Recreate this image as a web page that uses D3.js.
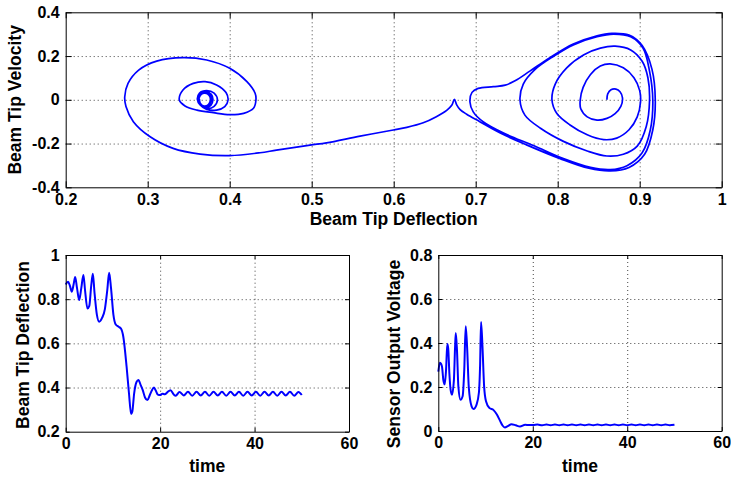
<!DOCTYPE html>
<meta charset="utf-8">
<head>
    <title>Beam tip response</title>
</head>
<style>
    body { margin: 0; background: #fff; }
    svg { font-family: "Liberation Sans", Arial, sans-serif; font-weight: bold; }
    .grid line { stroke: #444; stroke-dasharray: 1,3; }
    .grid path { display: none; }
    .axis path, .axis line { stroke: #000; }
</style>
<div id="fig"></div>
<script src="https://d3js.org/d3.v7.min.js"></script>
<script>
// phase portrait: [deflection, velocity]
// starts in the right well, spirals out, passes the cusp, settles in the left well
var phaseRightWell = [
    [0.860,0.000],[0.861,0.027],[0.865,0.046],[0.871,0.049],[0.876,0.037],[0.879,0.009],
    [0.877,-0.030],[0.870,-0.063],[0.860,-0.085],[0.848,-0.093],[0.836,-0.078],[0.828,-0.040],
    [0.8275,0.000],[0.831,0.057],[0.840,0.116],[0.852,0.154],[0.864,0.164],[0.880,0.146],
    [0.893,0.101],[0.900,0.042],[0.901,-0.010],[0.897,-0.078],[0.887,-0.137],[0.872,-0.175],
    [0.856,-0.182],[0.836,-0.160],[0.815,-0.115],[0.799,-0.063],[0.793,0.000],[0.797,0.072],
    [0.811,0.146],[0.832,0.206],[0.852,0.236],[0.870,0.245],[0.889,0.228],[0.903,0.176],
    [0.910,0.101],[0.912,-0.003],[0.908,-0.122],[0.897,-0.212],[0.880,-0.249],[0.860,-0.257],
    [0.836,-0.234],[0.807,-0.190],[0.779,-0.130],[0.760,-0.070],[0.754,0.000],[0.758,0.072],
    [0.7725,0.139],[0.795,0.199],[0.819,0.251],[0.848,0.288],[0.868,0.300],[0.889,0.288],
    [0.904,0.236],[0.912,0.131],[0.916,-0.003],[0.913,-0.137],[0.903,-0.242],[0.8845,-0.301],
    [0.864,-0.319],[0.840,-0.309],[0.807,-0.269],[0.7705,-0.209],[0.734,-0.152],[0.709,-0.100],
    [0.697,-0.055],[0.693,-0.010],[0.6955,0.034],[0.703,0.052],[0.7216,0.060],[0.736,0.067],
    [0.748,0.087],[0.766,0.131],[0.791,0.194],[0.819,0.255],[0.848,0.293],[0.866,0.304],
    [0.887,0.296],[0.903,0.248],[0.915,0.139],[0.919,-0.003],[0.916,-0.137],[0.906,-0.249],
    [0.887,-0.309],[0.864,-0.325],[0.838,-0.313],[0.803,-0.269],[0.762,-0.206],[0.730,-0.152],
    [0.705,-0.100],[0.689,-0.066],[0.681,-0.045],[0.677,-0.024]
];
var phaseCrossing = [
    [0.674,0.002],[0.671,-0.024],[0.665,-0.047],[0.652,-0.077],[0.636,-0.105],[0.616,-0.126],
    [0.5995,-0.138],[0.559,-0.166],[0.518,-0.197],[0.498,-0.207],[0.457,-0.230],[0.437,-0.242]
];
var phaseLeftWell = [
    [0.400,-0.255],[0.364,-0.248],[0.331,-0.222],[0.303,-0.169],[0.2825,-0.100],[0.2735,-0.031],
    [0.272,0.014],[0.276,0.075],[0.289,0.136],[0.311,0.177],[0.343,0.193],[0.372,0.182],
    [0.400,0.144],[0.421,0.083],[0.431,0.030],[0.432,-0.001],[0.429,-0.039],[0.417,-0.062],
    [0.400,-0.068],[0.380,-0.059],[0.360,-0.047],[0.3455,-0.028],[0.3386,-0.001],[0.343,0.045],
    [0.3556,0.075],[0.370,0.083],[0.384,0.068],[0.3955,0.033],[0.398,-0.001],[0.394,-0.031],
    [0.384,-0.047],[0.372,-0.044],[0.364,-0.024],[0.3606,0.002],[0.363,0.030],[0.372,0.042],
    [0.381,0.030],[0.385,0.000],[0.381,-0.030],[0.373,-0.040],[0.365,-0.025],[0.3615,0.002],
    [0.364,0.028],[0.371,0.036],[0.3775,0.025],[0.3795,0.000],[0.377,-0.025],[0.370,-0.034],
    [0.3635,-0.020],[0.3618,0.003],[0.3645,0.026],[0.3705,0.032],[0.376,0.022],[0.3775,0.000],
    [0.375,-0.023],[0.369,-0.030],[0.364,-0.017],[0.3625,0.004],[0.365,0.024],[0.370,0.030],
    [0.375,0.020],[0.3765,0.000],[0.374,-0.022],[0.3685,-0.029],[0.364,-0.015],[0.363,0.004]
];

// beam tip deflection versus time
var deflTime = [0,0.5,0.9,1.3,1.7,2.0,2.4,2.85,3.3,3.75,4.1,4.6,5.0,5.4,5.75,6.1,6.6,7.1,7.7,8.3,
    8.8,9.2,9.6,10.1,10.6,11.2,11.7,12.2,12.9,13.4,13.85,14.1,14.5,15.0,15.4,15.9,16.3,16.8,17.3,
    17.8,18.2,18.7,19.1,19.5,20.0,20.5,21.0,21.5,22.2,22.9,23.3,24.1,25.0,25.9,26.8,27.7,28.6,29.5,
    30.4,31.3,32.2,33.1,34.0,34.9,35.8,36.7,37.6,38.5,39.4,40.3,41.2,42.1,43.0,43.9,44.8,45.7,
    46.6,47.5,48.4,49.3,50.0];
var deflValue = [0.866,0.879,0.860,0.834,0.870,0.900,0.850,0.796,0.850,0.910,0.840,0.758,0.770,
    0.860,0.915,0.830,0.730,0.698,0.715,0.755,0.840,0.920,0.850,0.730,0.685,0.675,0.667,0.630,
    0.494,0.374,0.280,0.290,0.374,0.425,0.434,0.410,0.389,0.355,0.343,0.365,0.385,0.400,0.385,
    0.368,0.366,0.372,0.369,0.378,0.388,0.368,0.363,0.380,0.364,0.381,0.363,0.381,0.364,0.381,
    0.363,0.381,0.364,0.381,0.363,0.381,0.364,0.381,0.363,0.381,0.364,0.381,0.363,0.381,0.364,
    0.381,0.363,0.381,0.364,0.381,0.363,0.380,0.366];

// sensor output voltage versus time
var voltTime = [0,0.35,0.6,0.8,1.06,1.35,1.65,1.9,2.1,2.35,2.6,2.9,3.3,3.55,3.7,3.95,4.25,4.7,
    5.15,5.5,5.8,6.1,6.45,7.05,7.45,8.1,8.6,8.85,9.05,9.35,9.7,10.1,10.8,11.7,12.4,13.1,13.6,
    14.1,14.7,15.5,16.4,17.3,18.4,19.2,20.1,21.0,22.0,22.9,23.8,24.7,25.6,26.5,27.4,28.3,29.2,
    30.1,31.0,31.9,32.8,33.7,34.6,35.5,36.4,37.3,38.2,39.1,40.0,40.9,41.8,42.7,43.6,44.5,45.4,
    46.3,47.2,48.1,49.0,50.0];
var voltValue = [0.270,0.310,0.305,0.290,0.233,0.212,0.280,0.395,0.375,0.260,0.188,0.165,0.230,
    0.380,0.445,0.370,0.203,0.142,0.158,0.280,0.476,0.380,0.200,0.112,0.100,0.120,0.175,0.300,
    0.495,0.385,0.203,0.135,0.105,0.095,0.075,0.045,0.025,0.016,0.022,0.031,0.026,0.020,0.028,
    0.027,0.027,0.029,0.026,0.030,0.026,0.030,0.026,0.030,0.026,0.030,0.026,0.030,0.026,0.030,
    0.026,0.030,0.026,0.030,0.026,0.030,0.026,0.030,0.026,0.030,0.026,0.030,0.026,0.030,0.026,
    0.030,0.026,0.030,0.026,0.028];

// ticks
var phaseXTicks = [0.2,0.3,0.4,0.5,0.6,0.7,0.8,0.9,1];
var phaseXLabels = ["0.2","0.3","0.4","0.5","0.6","0.7","0.8","0.9","1"];
var phaseYTicks = [-0.4,-0.2,0,0.2,0.4];
var phaseYLabels = ["-0.4","-0.2","0","0.2","0.4"];
var timeTicks = [0,20,40,60];
var timeLabels = ["0","20","40","60"];
var deflTicks = [0.2,0.4,0.6,0.8,1];
var deflLabels = ["0.2","0.4","0.6","0.8","1"];
var voltTicks = [0,0.2,0.4,0.6,0.8];
var voltLabels = ["0","0.2","0.4","0.6","0.8"];

var svg = d3.select("#fig")
  .append("svg")
    .attr("width", 731)
    .attr("height", 478);
svg.append("rect").attr("width", 731).attr("height", 478).attr("fill", "#fff");

function panel(p) {
    var g = svg.append("g")
        .attr("transform", "translate(" + p.left + "," + p.top + ")");
    var x = d3.scaleLinear().domain(p.xDomain).range([0, p.width]);
    var y = d3.scaleLinear().domain(p.yDomain).range([p.height, 0]);

    // dotted grid
    g.append("g").attr("class", "grid")
        .attr("transform", "translate(0," + p.height + ")")
        .call(d3.axisBottom(x).tickValues(p.xTicks.slice(1, -1)).tickSize(-p.height).tickFormat(""));
    g.append("g").attr("class", "grid")
        .call(d3.axisLeft(y).tickValues(p.yTicks.slice(1, -1)).tickSize(-p.width).tickFormat(""));

    // curve
    g.append("path")
        .datum(p.points)
        .attr("fill", "none")
        .attr("stroke", "#0000ff")
        .attr("stroke-width", p.lineWidth)
        .attr("stroke-linejoin", "round")
        .attr("d", d3.line()
            .x(function(d) { return x(d[0]); })
            .y(function(d) { return y(d[1]); })
            .curve(p.curve));

    // axes, ticks pointing in
    function styled(sel) {
        sel.attr("class", "axis").attr("font-family", null).attr("font-size", 16);
        sel.selectAll("text").attr("fill", "#000");
        return sel;
    }
    styled(g.append("g")
        .attr("transform", "translate(0," + p.height + ")")
        .call(d3.axisBottom(x).tickValues(p.xTicks).tickSizeInner(-p.tick).tickSizeOuter(0)
            .tickPadding(6).tickFormat(function(d, i) { return p.xLabels[i]; })));
    styled(g.append("g")
        .call(d3.axisLeft(y).tickValues(p.yTicks).tickSizeInner(-p.tick).tickSizeOuter(0)
            .tickPadding(6).tickFormat(function(d, i) { return p.yLabels[i]; })));
    styled(g.append("g")
        .call(d3.axisTop(x).tickValues(p.xTicks).tickSizeInner(-p.tick).tickSizeOuter(0).tickFormat("")));
    styled(g.append("g")
        .attr("transform", "translate(" + p.width + ",0)")
        .call(d3.axisRight(y).tickValues(p.yTicks).tickSizeInner(-p.tick).tickSizeOuter(0).tickFormat("")));

    svg.append("text")
        .attr("x", p.xLabelPos[0]).attr("y", p.xLabelPos[1])
        .attr("text-anchor", "middle").attr("font-size", 17.5)
        .text(p.xLabel);
    svg.append("text")
        .attr("transform", "translate(" + p.yLabelPos[0] + "," + p.yLabelPos[1] + ") rotate(-90)")
        .attr("text-anchor", "middle").attr("font-size", 17.5)
        .text(p.yLabel);
}

panel({
    left: 65.7, top: 12.3, width: 656, height: 175,
    xDomain: [0.2, 1], yDomain: [-0.4, 0.4],
    xTicks: phaseXTicks, xLabels: phaseXLabels, yTicks: phaseYTicks, yLabels: phaseYLabels,
    points: phaseRightWell.concat(phaseCrossing, phaseLeftWell),
    curve: d3.curveCatmullRom.alpha(0.5), lineWidth: 1.7, tick: 6,
    xLabel: "Beam Tip Deflection", xLabelPos: [393.7, 225],
    yLabel: "Beam Tip Velocity", yLabelPos: [21, 99.8]
});

panel({
    left: 65.7, top: 255, width: 283.3, height: 176.7,
    xDomain: [0, 60], yDomain: [0.2, 1],
    xTicks: timeTicks, xLabels: timeLabels, yTicks: deflTicks, yLabels: deflLabels,
    points: deflTime.map(function(t, i) { return [t, deflValue[i]]; }),
    curve: d3.curveMonotoneX, lineWidth: 2, tick: 4,
    xLabel: "time", xLabelPos: [207.3, 472],
    yLabel: "Beam Tip Deflection", yLabelPos: [29, 345]
});

panel({
    left: 438.3, top: 255, width: 283.4, height: 176,
    xDomain: [0, 60], yDomain: [0, 0.8],
    xTicks: timeTicks, xLabels: timeLabels, yTicks: voltTicks, yLabels: voltLabels,
    points: voltTime.map(function(t, i) { return [t, voltValue[i]]; }),
    curve: d3.curveMonotoneX, lineWidth: 2, tick: 4,
    xLabel: "time", xLabelPos: [580, 472],
    yLabel: "Sensor Output Voltage", yLabelPos: [399.5, 354]
});
</script>
